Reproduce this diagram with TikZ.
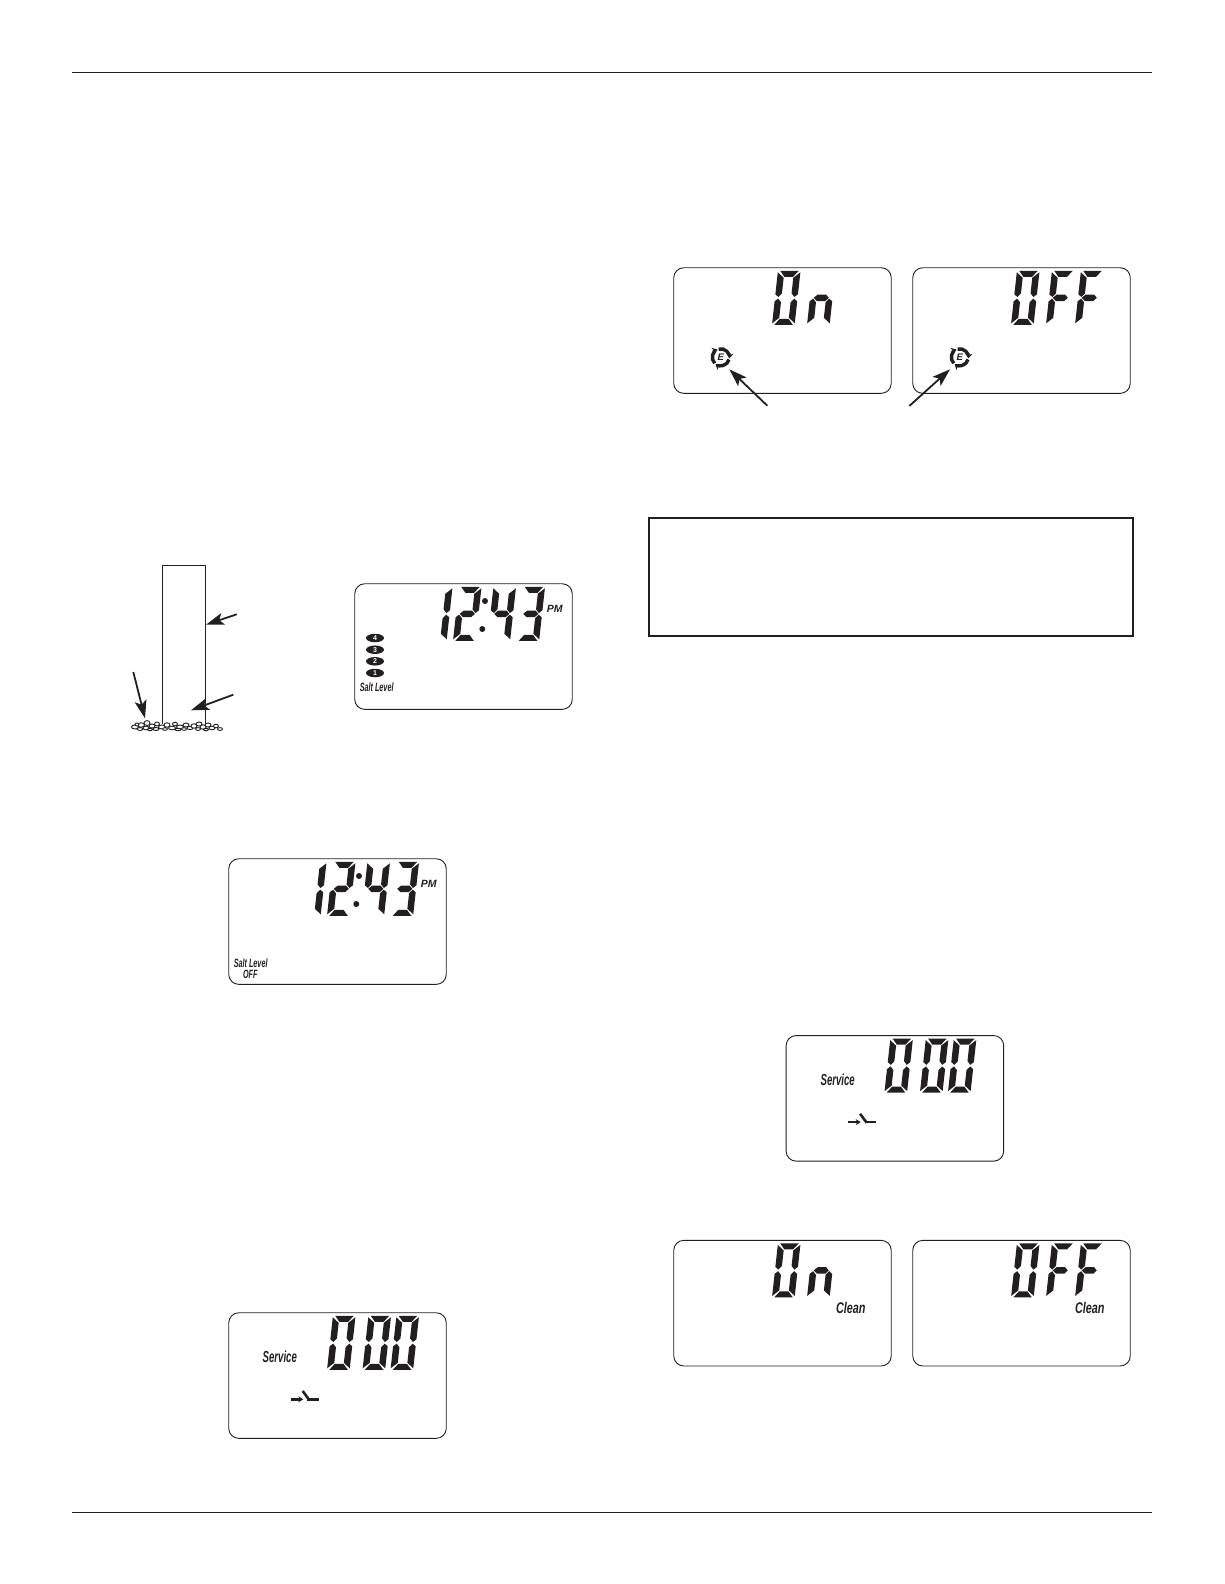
\documentclass[tikz,border=0pt]{standalone}
\usepackage{fontspec}
\newfontfamily\lcdfont[FakeStretch=.6]{Liberation Sans}
\newfontfamily\cleanfont[FakeStretch=.7]{Liberation Sans}
\newfontfamily\pmfont{Liberation Sans}
\definecolor{lcdink}{HTML}{231F20}
\usetikzlibrary{arrows.meta,shapes.geometric}
\tikzset{
  lcdpanel/.style={draw=lcdink,line width=.9pt,rounded corners=10pt,minimum width=217.5pt,minimum height=125.6pt,anchor=north west,inner sep=0pt},
  lcdtext/.style={font=\lcdfont\bfseries\itshape\fontsize{12}{12}\selectfont,text=lcdink,inner sep=0pt},
  servicetext/.style={font=\lcdfont\bfseries\itshape\fontsize{16}{16}\selectfont,text=lcdink,inner sep=0pt},
  cleantext/.style={font=\cleanfont\bfseries\itshape\fontsize{15.5}{15.5}\selectfont,text=lcdink,inner sep=0pt},
  pmtext/.style={font=\pmfont\bfseries\itshape\fontsize{10.5}{10.5}\selectfont,text=lcdink,inner sep=0pt},
  saltdot/.style={ellipse,fill=lcdink,text=white,minimum width=18pt,minimum height=8.5pt,inner sep=0pt,font=\pmfont\bfseries\fontsize{7}{7}\selectfont},
  colondot/.style={circle,fill=lcdink,minimum size=6pt,inner sep=0pt},
  callout/.style={-{Stealth[length=18pt,width=12pt,inset=4pt]},lcdink,line width=1.8pt},
  pebble/.style={draw=lcdink,fill=white,line width=.9pt},
  seg a/.pic={\fill[lcdink] (2,-54)--(20.5,-54)--(15.5,-48)--(6.8,-48)--cycle;},
  seg b/.pic={\fill[lcdink] (22.3,-52.5)--(15.8,-47)--(15.8,-31.5)--(19,-27.8)--(22.3,-30.5)--cycle;},
  seg c/.pic={\fill[lcdink] (22.3,-23.5)--(19,-26.2)--(15.8,-22.5)--(15.8,-7)--(22.3,-1.5)--cycle;},
  seg d/.pic={\fill[lcdink] (2,0)--(20.5,0)--(15.5,-6)--(6.8,-6)--cycle;},
  seg e/.pic={\fill[lcdink] (-.3,-23.5)--(3,-26.2)--(6.2,-22.5)--(6.2,-7)--(-.3,-1.5)--cycle;},
  seg f/.pic={\fill[lcdink] (-.3,-52.5)--(6.2,-47)--(6.2,-31.5)--(3,-27.8)--(-.3,-30.5)--cycle;},
  seg g/.pic={\fill[lcdink] (3.5,-27)--(7,-30.2)--(15.5,-30.2)--(18.5,-27)--(15.5,-23.8)--(7,-23.8)--cycle;},
  ecoring/.pic={
    \foreach \a in {15,135,255}{\draw[lcdink,line width=3.4pt,-{Stealth[length=5pt,width=7.5pt]}] (\a:8.5) arc[start angle=\a,end angle=\a+112,radius=8.5];}
    \node[font=\pmfont\bfseries\itshape\fontsize{9.5}{9.5}\selectfont,text=lcdink,inner sep=0pt] (-e) at (0,0) {E};
  },
  bypass/.pic={
    \draw[-{Stealth[length=5pt,width=6pt]},lcdink,line width=2.4pt] (62.7,87)--(75,87);
    \draw[lcdink,line width=2.6pt] (74.4,78.7)--(81,87.7);
    \draw[lcdink,line width=2.4pt] (79,87)--(90.7,87);
  }
}
\newcommand{\lcddigit}[3]{\begin{scope}[shift={(#1,#2)},xslant=.11]\foreach \s in {#3}{\pic[transform shape] {seg \s};}\end{scope}}
\newcommand{\lcdclock}{\lcddigit{70}{57.5}{b,c}\lcddigit{99}{57.5}{a,b,g,e,d}\lcddigit{133.5}{57.5}{f,g,b,c}\lcddigit{162.5}{57.5}{a,b,g,c,d}}
\newcommand{\lcdoff}{\lcddigit{99}{57.5}{a,b,c,d,e,f}\lcddigit{134}{57.5}{a,f,g,e}\lcddigit{163}{57.5}{a,f,g,e}}
\newcommand{\lcdon}{\lcddigit{99}{57.5}{a,b,c,d,e,f}\lcddigit{134}{57.5}{e,g,c}}
\newcommand{\lcdzero}{\lcddigit{99}{57.5}{a,b,c,d,e,f}\lcddigit{134.5}{57.5}{a,b,c,d,e,f}\lcddigit{162.5}{57.5}{a,b,c,d,e,f}}
\begin{document}
\begin{tikzpicture}[x=1pt,y=-1pt,>=Stealth]
\useasboundingbox (0,0) rectangle (1224,1584);
\coordinate (ruleTopL) at (71.7,72);
\coordinate (ruleTopR) at (1152,72);
\coordinate (ruleBotL) at (71.7,1512);
\coordinate (ruleBotR) at (1152,1512);
\draw[lcdink,line width=.9pt] (ruleTopL) -- (ruleTopR);
\draw[lcdink,line width=.9pt] (ruleBotL) -- (ruleBotR);

\begin{scope}[shift={(673.3,267.3)}]
\node[lcdpanel] (ecoOn) at (0,0) {};
\lcdon
\pic (ringOn) at (47.5,90) {ecoring};
\end{scope}
\begin{scope}[shift={(912.3,267.3)}]
\node[lcdpanel] (ecoOff) at (0,0) {};
\lcdoff
\pic (ringOff) at (47.5,90) {ecoring};
\end{scope}
\coordinate (onTail) at (767.3,405.7);
\coordinate (onTip) at (729.3,369.3);
\coordinate (offTail) at (909.3,406);
\coordinate (offTip) at (950,369.3);
\draw[callout] (onTail) -- (onTip);
\draw[callout] (offTail) -- (offTip);

\node[draw=lcdink,line width=1.8pt,minimum width=484pt,minimum height=118pt,anchor=north west,inner sep=0pt] (notice) at (647.8,517) {};

\coordinate (colTL) at (162.3,565);
\coordinate (colTR) at (205.7,565);
\coordinate (colBL) at (162.3,724);
\coordinate (colBR) at (205.7,724);
\draw[lcdink,line width=.9pt] (colBL) -- (colTL) -- (colTR) -- (colBR);
\foreach \px/\py/\rx/\ry in {135/727/3.5/2,141/725/3.5/2.2,146/728/3/1.8,147/723/3/2.4,152/726/3/2,157/724/2.5/2,156/729/3/1.5,162/727/3.5/2,167/725/3/2.2,172/728/3.5/1.8,175/724/2.5/1.8,180/727/3.5/2,186/725/3/2,190/728/3/1.6,194/726/3/2.2,199/724/3/2,203/727/3/2.2,208/725/3/2,212/728/3/1.8,216/726/2.5/1.8,220/729/2.5/1.4,140/729/3/1.4,150/729.5/2.5/1.2,178/729.5/3/1.2,198/729/2.5/1.4,137/724.5/2/1.5,165/729/2.5/1.3,184/729/2.5/1.3,206/729.5/2.5/1.2}{\draw[pebble] (\px,\py) ellipse[x radius=\rx,y radius=\ry];}
\coordinate (tankTail) at (236.7,614.3);
\coordinate (tankTip) at (206,624.7);
\coordinate (waterTail) at (233.3,694.7);
\coordinate (waterTip) at (191,710.3);
\coordinate (saltTail) at (133.3,672);
\coordinate (saltTip) at (145,718.3);
\draw[callout] (tankTail) -- (tankTip);
\draw[callout] (waterTail) -- (waterTip);
\draw[callout] (saltTail) -- (saltTip);

\begin{scope}[shift={(354.3,583.3)}]
\node[lcdpanel] (saltOn) at (0,0) {};
\lcdclock
\node[colondot] (colonA) at (130.7,17.7) {};
\node[colondot] (colonB) at (128,45.7) {};
\node[pmtext] (pmA) at (200.4,25.2) {PM};
\foreach \n/\yy in {4/54.7,3/66.4,2/78,1/89.7}{\node[saltdot] (level\n) at (20.7,\yy) {\n};}
\node[lcdtext] (saltA) at (22.4,104.4) {Salt Level};
\end{scope}

\begin{scope}[shift={(228.3,858.3)}]
\node[lcdpanel] (saltOff) at (0,0) {};
\lcdclock
\node[colondot] (colonC) at (130.7,17.7) {};
\node[colondot] (colonD) at (128,45.7) {};
\node[pmtext] (pmB) at (200.4,25.2) {PM};
\node[lcdtext] (saltB) at (22.4,104.7) {Salt Level};
\node[lcdtext] (offB) at (22,116) {OFF};
\end{scope}

\begin{scope}[shift={(228.3,1312.3)}]
\node[lcdpanel] (serviceA) at (0,0) {};
\lcdzero
\node[servicetext] (svcA) at (51.5,44.7) {Service};
\pic (valveA) at (0,0) {bypass};
\end{scope}

\begin{scope}[shift={(785.7,1035.1)}]
\node[lcdpanel] (serviceB) at (0,0) {};
\lcdzero
\node[servicetext] (svcB) at (52,44.7) {Service};
\pic (valveB) at (0,0) {bypass};
\end{scope}

\begin{scope}[shift={(673.3,1239.9)}]
\node[lcdpanel] (cleanOn) at (0,0) {};
\lcdon
\node[cleantext] (cleanA) at (177.5,67.6) {Clean};
\end{scope}
\begin{scope}[shift={(912.3,1239.9)}]
\node[lcdpanel] (cleanOff) at (0,0) {};
\lcdoff
\node[cleantext] (cleanB) at (177.5,67.6) {Clean};
\end{scope}
\end{tikzpicture}
\end{document}
